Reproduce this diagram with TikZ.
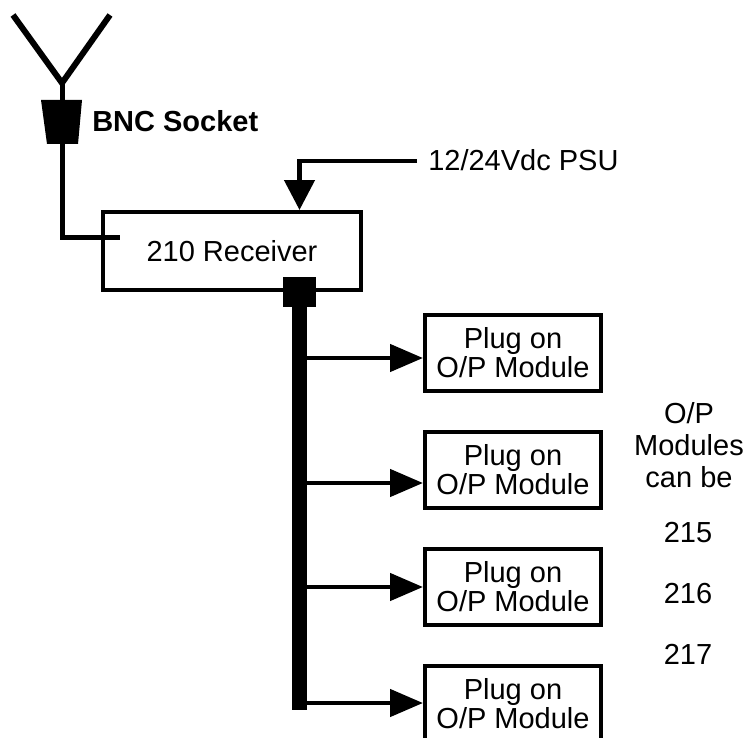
\documentclass[tikz,border=0pt]{standalone}
\usepackage{fontspec}
\setmainfont{Liberation Sans}
\usepackage{tikz}
\usetikzlibrary{arrows.meta,positioning,calc}
\tikzstyle{block} = [rectangle, draw, line width=3pt, text centered, align=center,
    minimum width=132pt, minimum height=57pt]
\tikzstyle{line} = [draw, line width=3.5pt, -{Triangle[length=24.75pt,width=20.25pt]}]
\tikzstyle{wire} = [draw, line width=3.75pt]
\tikzstyle{note} = [inner sep=0pt, align=center]

\begin{document}
\begin{tikzpicture}[x=0.75pt, y=-0.75pt, node distance=87.75pt,
    font=\fontsize{21.75pt}{21.75pt}\selectfont]
\useasboundingbox (0,0) rectangle (749,738);
%% Place nodes
\node [block, minimum width=193.5pt, minimum height=58.5pt] (receiver) at (232,251) {210 Receiver};
\node [fill, inner sep=0pt, minimum width=24.75pt, minimum height=22.5pt] (port) at (299.5,292) {};
\node [block] (module1) at (513,353) {Plug on\\O/P Module};
\node [block, below of=module1] (module2) {Plug on\\O/P Module};
\node [block, below of=module2] (module3) {Plug on\\O/P Module};
\node [block, below of=module3] (module4) {Plug on\\O/P Module};
\node [note, anchor=west] (psu) at (428,160) {12/24Vdc PSU};
\node [note, anchor=west] (bnclabel) at (92,121) {\bfseries BNC Socket};
\node [note, font=\fontsize{21.75pt}{24pt}\selectfont] (types) at (689,445) {O/P\\Modules\\can be};
\foreach \n/\y in {215/533, 216/594, 217/654}{
    \node [note] (type\n) at (688,\y) {\n};
}
\coordinate (bnctop) at (62,100);
\coordinate (bncbottom) at (62,144);
\coordinate (rxin) at (120,237);
\coordinate (busend) at (299.5,710);
\coordinate (feed) at ($(psu.west)+(-11,1)$);

%% Draw aerial and BNC socket
\draw [line width=4.5pt] (13,15) -- (62,83) -- (110,15);
\draw [line width=3.75pt] (62,83) -- (bnctop);
\fill (41,100) -- (82,100) -- (78,144) -- (47,144) -- cycle;

%% Draw lines between boxes
\path [wire] (bncbottom) |- (rxin);
\path [line, -{Triangle[length=22.5pt,width=22.5pt]}] (feed) -| (port |- receiver.north);
\path [draw, line width=11.25pt] (port.south) -- (busend);
\foreach \m/\dy in {1/5, 2/13, 3/0, 4/-1}{
    \path [line] ([yshift=-\dy*0.75pt]module\m.west -| port) -- ([yshift=-\dy*0.75pt]module\m.west);
}
\end{tikzpicture}
\end{document}
